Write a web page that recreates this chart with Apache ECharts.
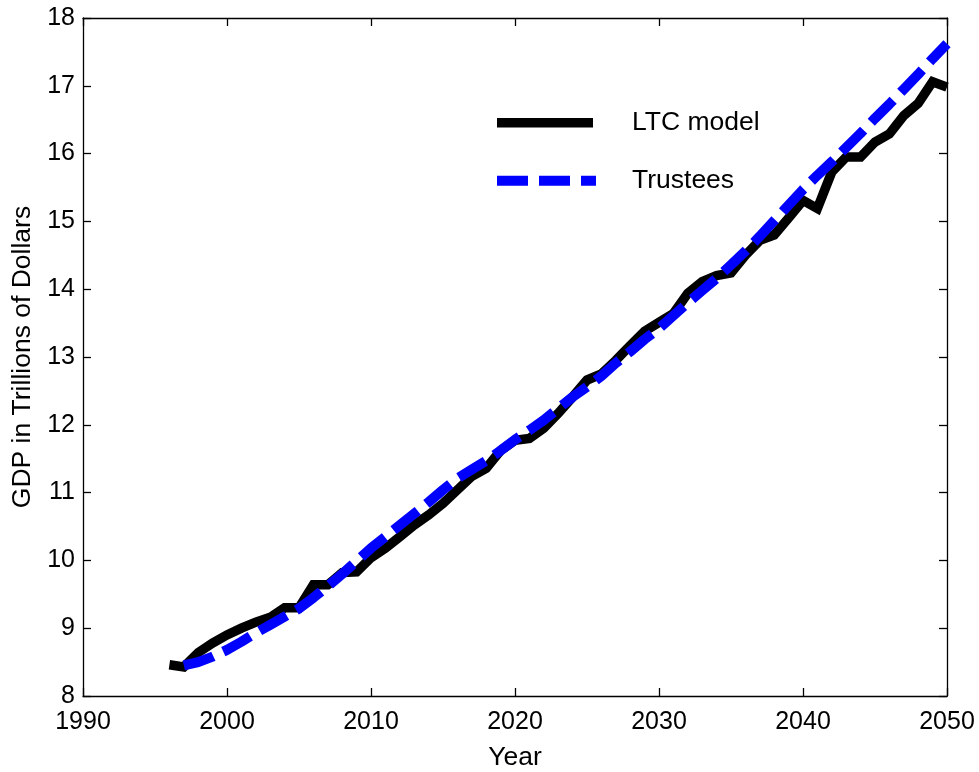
<!DOCTYPE html>
<html>
<head>
<meta charset="utf-8">
<script src="https://cdn.jsdelivr.net/npm/echarts@6/dist/echarts.min.js"></script>
<style>
html,body{margin:0;padding:0;background:#fff;}
#chart{width:979px;height:772px;}
</style>
</head>
<body>
<div id="chart"></div>
<script>
var years = [1996,1997,1998,1999,2000,2001,2002,2003,2004,2005,2006,2007,2008,2009,2010,2011,2012,2013,2014,2015,2016,2017,2018,2019,2020,2021,2022,2023,2024,2025,2026,2027,2028,2029,2030,2031,2032,2033,2034,2035,2036,2037,2038,2039,2040,2041,2042,2043,2044,2045,2046,2047,2048,2049,2050];
var ltcModel = [8.46,8.43,8.64,8.78,8.90,9.00,9.09,9.16,9.30,9.30,9.64,9.64,9.82,9.83,10.04,10.18,10.35,10.52,10.67,10.84,11.04,11.24,11.36,11.62,11.77,11.80,11.95,12.17,12.41,12.66,12.75,12.95,13.17,13.38,13.51,13.64,13.94,14.11,14.20,14.24,14.50,14.72,14.80,15.05,15.31,15.19,15.73,15.95,15.95,16.17,16.29,16.56,16.74,17.06,16.98];
var trustees = [null,8.45,8.50,8.58,8.68,8.80,8.93,9.05,9.17,9.29,9.45,9.62,9.80,9.99,10.18,10.35,10.52,10.69,10.86,11.04,11.21,11.34,11.47,11.62,11.78,11.92,12.07,12.24,12.41,12.56,12.72,12.91,13.08,13.26,13.42,13.61,13.80,13.98,14.16,14.36,14.56,14.78,15.01,15.24,15.47,15.68,15.88,16.09,16.30,16.52,16.73,16.95,17.17,17.40,17.62];
var seriesNames = ['LTC model', 'Trustees'];
var xTicks = {min:1990, max:2050, interval:10};
var yTicks = {min:8, max:18, interval:1};

function pairs(xs, ys){
  var out = [];
  for (var i = 0; i < xs.length; i++) { if (ys[i] !== null) out.push([xs[i], ys[i]]); }
  return out;
}

var FONT = "'Liberation Sans', Arial, Helvetica, sans-serif";
var BLACK_W = 9.5, BLUE_W = 10, DASH = [31, 11];
var chart = echarts.init(document.getElementById('chart'), null, {renderer:'canvas'});
var axisCommon = {
  axisLine:{show:true, onZero:false, lineStyle:{color:'#000', width:1.3}},
  axisTick:{show:true, inside:true, length:8, lineStyle:{color:'#000', width:1.3}},
  splitLine:{show:false}
};
chart.setOption({
  animation:false,
  backgroundColor:'#fff',
  grid:{left:83, top:18, right:32, bottom:76, containLabel:false, outerBoundsMode:'none'},
  xAxis:[
    Object.assign({type:'value', position:'bottom', min:xTicks.min, max:xTicks.max, interval:xTicks.interval,
      name:'Year', nameLocation:'middle', nameGap:48,
      nameTextStyle:{fontFamily:FONT, fontSize:26.5, color:'#000'},
      axisLabel:{fontFamily:FONT, fontSize:25, color:'#000', margin:14, formatter:function(v){return String(v);}}}, axisCommon),
    Object.assign({type:'value', position:'top', min:xTicks.min, max:xTicks.max, interval:xTicks.interval,
      axisLabel:{show:false}}, axisCommon)
  ],
  yAxis:[
    Object.assign({type:'value', position:'left', min:yTicks.min, max:yTicks.max, interval:yTicks.interval,
      name:'GDP in Trillions of Dollars', nameLocation:'middle', nameGap:41, nameRotate:90,
      nameTextStyle:{fontFamily:FONT, fontSize:26.5, color:'#000'},
      axisLabel:{fontFamily:FONT, fontSize:25, color:'#000', margin:8}}, axisCommon),
    Object.assign({type:'value', position:'right', min:yTicks.min, max:yTicks.max, interval:yTicks.interval,
      axisLabel:{show:false}}, axisCommon)
  ],
  graphic:[
    {type:'line', shape:{x1:497, y1:122.7, x2:593, y2:122.7}, style:{stroke:'#000', lineWidth:BLACK_W}, z:10},
    {type:'text', left:632, top:122.7 - 14, style:{text:seriesNames[0], font:'26.5px ' + FONT, fill:'#000'}, z:10},
    {type:'line', shape:{x1:497, y1:180.7, x2:596, y2:180.7}, style:{stroke:'#0000ff', lineWidth:BLUE_W, lineDash:DASH}, z:10},
    {type:'text', left:632, top:180.7 - 14, style:{text:seriesNames[1], font:'26.5px ' + FONT, fill:'#000'}, z:10}
  ],
  series:[
    {name:seriesNames[0], type:'line', xAxisIndex:0, yAxisIndex:0, data:pairs(years, ltcModel),
      symbol:'none', lineStyle:{color:'#000', width:BLACK_W, join:'miter'}, itemStyle:{color:'#000'}, z:2},
    {name:seriesNames[1], type:'line', xAxisIndex:0, yAxisIndex:0, data:pairs(years, trustees),
      symbol:'none', lineStyle:{color:'#0000ff', width:BLUE_W, type:DASH, cap:'butt'}, itemStyle:{color:'#0000ff'}, z:3}
  ]
});
</script>
</body>
</html>
